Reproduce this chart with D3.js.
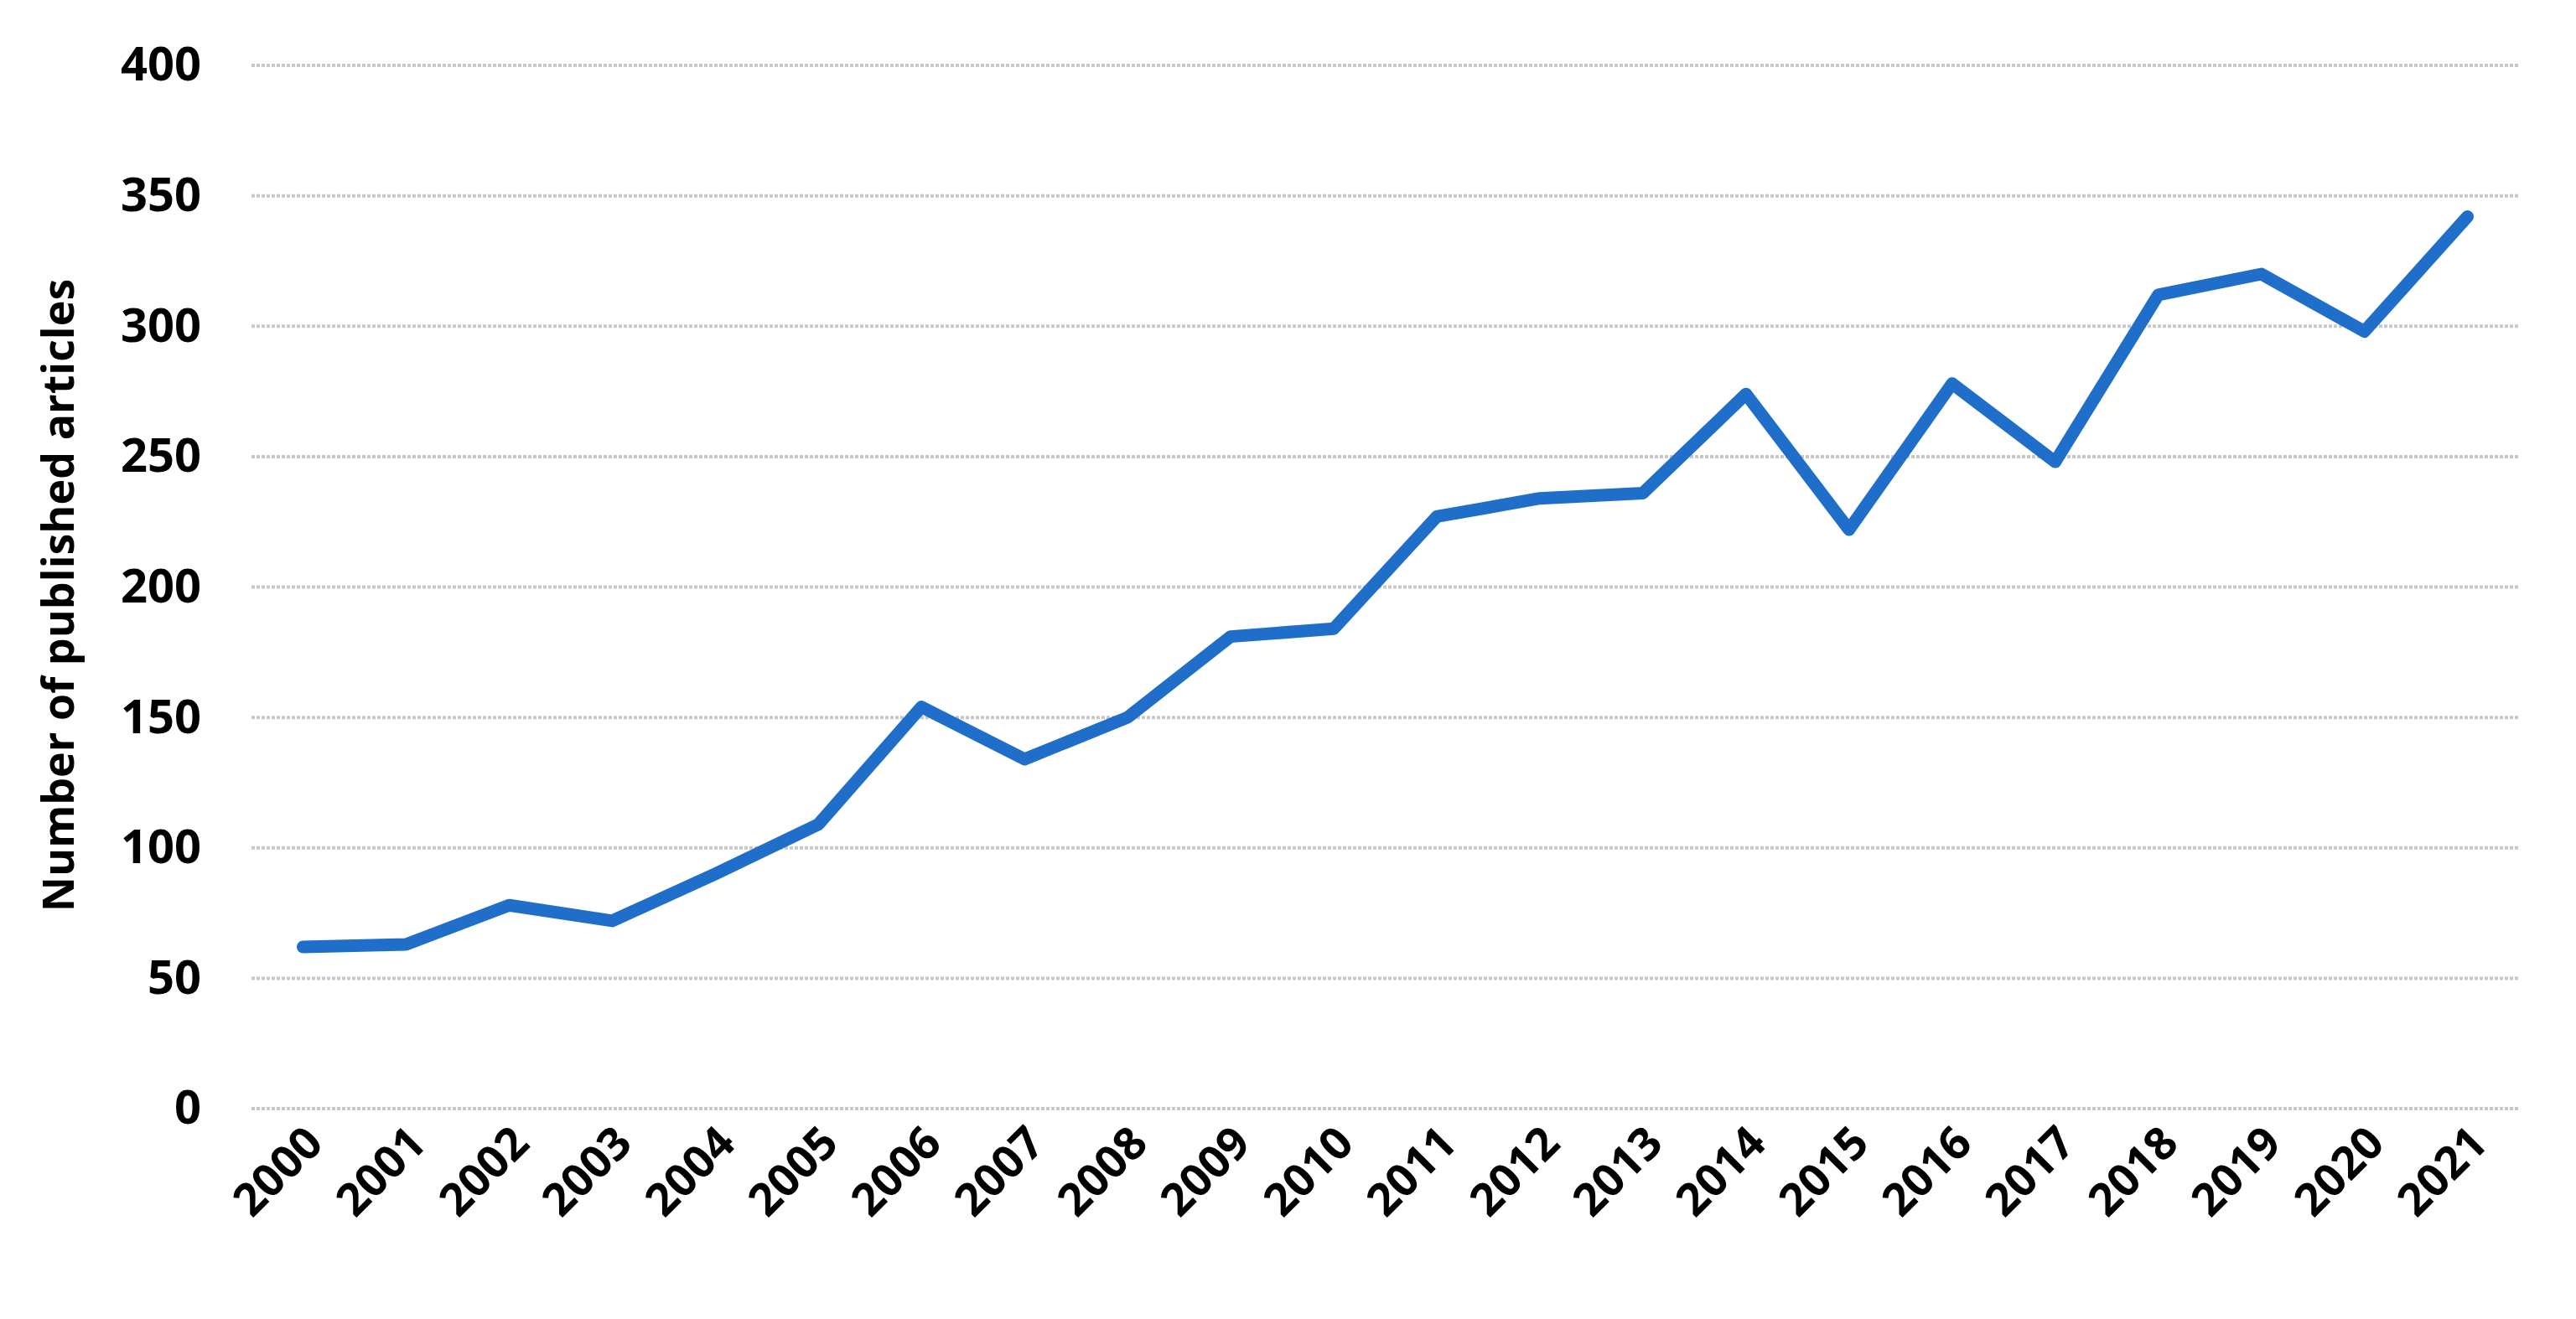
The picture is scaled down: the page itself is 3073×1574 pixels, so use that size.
<!DOCTYPE html>
<html><head><meta charset="utf-8">
<script src="https://cdn.jsdelivr.net/npm/d3@7"></script>
<style>body{margin:0;background:#fff}</style></head>
<body><svg id="c" width="3073" height="1574"></svg>
<script>
const years = ["2000","2001","2002","2003","2004","2005","2006","2007","2008","2009","2010","2011","2012","2013","2014","2015","2016","2017","2018","2019","2020","2021"];
const articles = [62,63,78,72,90,109,154,134,150,181,184,227,234,236,274,222,278,248,312,320,298,342];
const yTicks = [0,50,100,150,200,250,300,350,400];

const svg = d3.select("#c");
const L=300,R=3005,T=78,B=1323;
const x = d3.scalePoint().domain(years).range([L,R]).padding(0.5);
const y = d3.scaleLinear().domain([0,400]).range([B,T]);
const font = "'Open Sans', 'Liberation Sans', sans-serif";

svg.append("g").selectAll("line").data(yTicks).join("line")
  .attr("x1",L).attr("x2",R).attr("y1",d=>y(d)).attr("y2",d=>y(d))
  .attr("stroke","#c8c8c8").attr("stroke-width",4).attr("stroke-dasharray","4,2");

const ya = svg.append("g").attr("transform",`translate(${L},0)`)
  .call(d3.axisLeft(y).tickValues(yTicks).tickSize(0).tickPadding(60));
ya.select(".domain").remove();
ya.selectAll("text").attr("font-family",font).attr("font-weight","bold").attr("font-size",56).attr("fill","#000");

const xa = svg.append("g").attr("transform",`translate(0,${B})`)
  .call(d3.axisBottom(x).tickSize(0));
xa.select(".domain").remove();
xa.selectAll("text").attr("font-family",font).attr("font-weight","bold").attr("font-size",54).attr("fill","#000")
  .attr("text-anchor","end").attr("dy",0).attr("transform","translate(24,42) rotate(-45)");

svg.append("text").attr("transform",`translate(88,${(T+B)/2+10}) rotate(-90)`)
  .attr("text-anchor","middle").attr("font-family",font).attr("font-weight","bold").attr("font-size",52)
  .text("Number of published articles");

svg.append("path").datum(articles)
  .attr("d",d3.line().x((d,i)=>x(years[i])).y(d=>y(d)))
  .attr("fill","none").attr("stroke","#1f6fca").attr("stroke-width",15)
  .attr("stroke-linejoin","round").attr("stroke-linecap","round");
</script></body></html>
